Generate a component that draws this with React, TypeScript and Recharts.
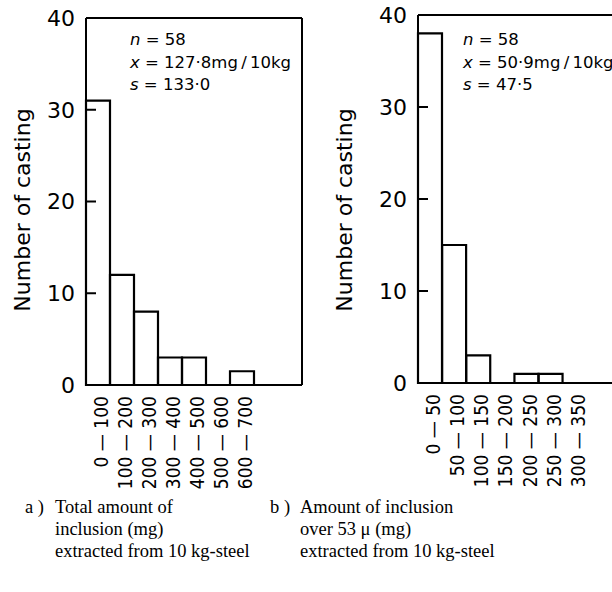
import { Bar, BarChart, ReferenceLine, XAxis, YAxis } from "recharts"

// a) total inclusion, 100 mg bins
const binsA = ["0 – 100", "100 – 200", "200 – 300", "300 – 400", "400 – 500", "500 – 600", "600 – 700", "", ""]
const countsA = [31, 12, 8, 3, 3, 0, 1.5, 0, 0]

// b) inclusion over 53 µ, 50 mg bins
const binsB = ["0 – 50", "50 – 100", "100 – 150", "150 – 200", "200 – 250", "250 – 300", "300 – 350", "", ""]
const countsB = [38, 15, 3, 0, 1, 1, 0, 0, 0]

const yTicks = [0, 10, 20, 30, 40]
const innerTicks = [10, 20, 30]

const statsA = ["58", "127·8mg\u2009/\u200910kg", "133·0"]
const statsB = ["58", "50·9mg\u2009/\u200910kg", "47·5"]

const SANS = "'DejaVu Sans', sans-serif"
const NARROW = "'DejaVu Sans Condensed', 'DejaVu Sans', sans-serif"
const SERIF = "'Liberation Serif', serif"
const line = { stroke: "#000", strokeWidth: 2 }

function BinTick(props: any) {
  const { x, y, payload, labels } = props
  const tx = x + 3
  const ty = y + 11
  // long dash as in the print
  const text = (labels[payload.value] || "").replace(" – ", "\u00a0—\u00a0")
  return (
    <text
      x={tx}
      y={ty}
      transform={`rotate(-90 ${tx} ${ty})`}
      textAnchor="end"
      dominantBaseline="central"
      fontFamily={NARROW}
      fontSize={19}
      fill="#000"
    >
      {text}
    </text>
  )
}

// short stub from the left axis into the plot
function TickStub(props: any) {
  const x1 = Math.min(props.x1, props.x2)
  const y = props.y1
  if (x1 == null || y == null || isNaN(x1) || isNaN(y)) return <g />
  return <line x1={x1} y1={y} x2={x1 + 10} y2={y} stroke="#000" strokeWidth={2} />
}

// plotTop / plotBottom / plotRight are in chart pixels
function Histogram({ labels, counts, width, yAxisWidth, plotTop, plotBottom, plotRight }: any) {
  const rows = counts.map((n: number, i: number) => ({ k: i, n }))
  const height = 500
  return (
    <BarChart width={width} height={height} data={rows} barCategoryGap={0}
      margin={{ top: plotTop - 1, right: width - plotRight - 1, left: 0, bottom: 0 }}>
      <XAxis dataKey="k" type="category" height={height - plotBottom} tickSize={0} tickMargin={0}
        axisLine={line} interval={0} tick={(p: any) => <BinTick {...p} labels={labels} />} />
      <XAxis xAxisId="top" dataKey="k" orientation="top" height={1} tick={false} tickLine={false} axisLine={line} />
      <YAxis domain={[0, 40]} ticks={yTicks} width={yAxisWidth} axisLine={line}
        tickLine={false} tickSize={0} tickMargin={11}
        tick={{ fontFamily: SANS, fontSize: 22, fill: "#000" }} />
      <YAxis yAxisId="r" orientation="right" domain={[0, 40]} width={1} tick={false} tickLine={false} axisLine={line} />
      <Bar dataKey="n" fill="none" stroke="#000" strokeWidth={2.2} isAnimationActive={false} />
      {innerTicks.map(t => (
        <ReferenceLine key={t} y={t} stroke="#000" strokeWidth={2} shape={(p: any) => <TickStub {...p} />} />
      ))}
    </BarChart>
  )
}

function YLabel({ cx, cy }: { cx: number; cy: number }) {
  return (
    <div style={{
      position: "absolute", left: cx - 150, top: cy - 14, width: 300, height: 28, lineHeight: "28px",
      textAlign: "center", transform: "rotate(-90deg)", fontFamily: SANS, fontSize: 22, color: "#000",
    }}>
      Number of casting
    </div>
  )
}

function Stats({ left, values }: { left: number; values: string[] }) {
  const names = ["n", "x", "s"]
  return (
    <div style={{ position: "absolute", left, top: 29, fontFamily: SANS, fontSize: 16.5, lineHeight: "22.5px", color: "#000", whiteSpace: "nowrap" }}>
      {values.map((v, i) => (
        <div key={i}><i>{names[i]}</i> = {v}</div>
      ))}
    </div>
  )
}

function Caption({ left, tag, lines }: { left: number; tag: string; lines: string[] }) {
  return (
    <div style={{ position: "absolute", left, top: 496, display: "flex", fontFamily: SERIF, fontSize: 18.5, lineHeight: "22px", color: "#000", whiteSpace: "nowrap" }}>
      <div style={{ width: 30 }}>{tag}</div>
      <div>{lines.map((l, i) => <div key={i}>{l}</div>)}</div>
    </div>
  )
}

export default function App() {
  return (
    <div style={{ position: "fixed", left: 0, top: 0, width: 612, height: 592, overflow: "hidden", background: "#fff" }}>
      <div style={{ position: "absolute", left: 0, top: 0 }}>
        <Histogram labels={binsA} counts={countsA} width={310} yAxisWidth={86} plotTop={18} plotBottom={385} plotRight={302} />
      </div>
      <div style={{ position: "absolute", left: 300, top: 0 }}>
        <Histogram labels={binsB} counts={countsB} width={340} yAxisWidth={118} plotTop={15} plotBottom={383} plotRight={335} />
      </div>
      <YLabel cx={23} cy={210} />
      <YLabel cx={345} cy={210} />
      <Stats left={130} values={statsA} />
      <Stats left={463} values={statsB} />
      <Caption left={25} tag="a )" lines={["Total amount of", "inclusion (mg)", "extracted from 10 kg-steel"]} />
      <Caption left={270} tag="b )" lines={["Amount of inclusion", "over 53 μ (mg)", "extracted from 10 kg-steel"]} />
    </div>
  )
}
